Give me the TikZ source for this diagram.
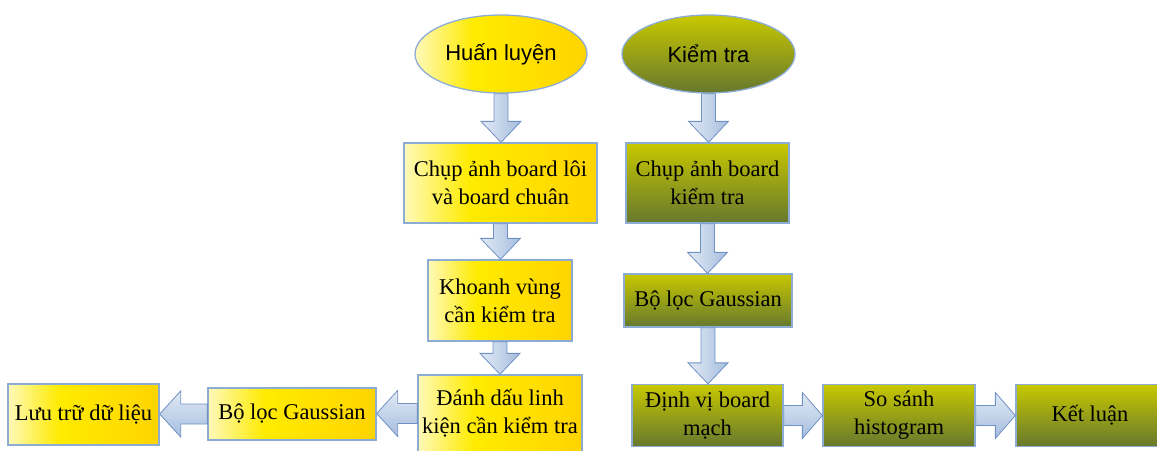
\documentclass[tikz,border=0pt]{standalone}
\usepackage{fontspec}
\setmainfont{Liberation Serif}
\newfontfamily\seriff{Liberation Serif}
\newfontfamily\sansf{Liberation Sans}
\usetikzlibrary{shapes.geometric,calc}
\definecolor{ylight}{RGB}{255,249,185}
\definecolor{ymid}{RGB}{255,235,0}
\definecolor{ydark}{RGB}{255,212,0}
\definecolor{olight}{RGB}{200,200,0}
\definecolor{odark}{RGB}{102,120,46}
\definecolor{bordercol}{RGB}{140,172,212}
\definecolor{alight}{RGB}{226,234,245}
\definecolor{adark}{RGB}{165,189,222}
\definecolor{aborder}{RGB}{112,145,196}
\pgfdeclarehorizontalshading{yellowsh}{100bp}{color(0bp)=(ylight); color(25bp)=(ylight); color(42bp)=(ymid); color(75bp)=(ydark); color(100bp)=(ydark)}
\pgfdeclareverticalshading{olivesh}{100bp}{color(0bp)=(odark); color(25bp)=(odark); color(75bp)=(olight); color(100bp)=(olight)}
\pgfdeclarehorizontalshading{arrowvsh}{100bp}{color(0bp)=(alight); color(25bp)=(alight); color(75bp)=(adark); color(100bp)=(adark)}
\pgfdeclareverticalshading{arrowhsh}{100bp}{color(0bp)=(adark); color(25bp)=(adark); color(75bp)=(alight); color(100bp)=(alight)}
\newcommand\blockdown[2]{%
  \path[blockarrow, shading=arrowvsh] let \p1=(#1.south), \p2=(#2.north) in
    (\x1-7pt,\y1) -- (\x1+7pt,\y1) -- (\x1+7pt,\y2+21pt) -- (\x1+20pt,\y2+21pt)
    -- (\x1,\y2) -- (\x1-20pt,\y2+21pt) -- (\x1-7pt,\y2+21pt) -- cycle;}
\newcommand\blockright[2]{%
  \path[blockarrow, shading=arrowhsh] let \p1=(#1.east), \p2=(#2.west) in
    (\x1,\y1+10pt) -- (\x2-20pt,\y1+10pt) -- (\x2-20pt,\y1+23pt) -- (\x2,\y1)
    -- (\x2-20pt,\y1-23pt) -- (\x2-20pt,\y1-10pt) -- (\x1,\y1-10pt) -- cycle;}
\newcommand\blockleft[2]{%
  \path[blockarrow, shading=arrowhsh] let \p1=(#1.west), \p2=(#2.east) in
    (\x1,\y1+10pt) -- (\x2+21pt,\y1+10pt) -- (\x2+21pt,\y1+23pt) -- (\x2,\y1)
    -- (\x2+21pt,\y1-23pt) -- (\x2+21pt,\y1-10pt) -- (\x1,\y1-10pt) -- cycle;}
\begin{document}
\begin{tikzpicture}[x=1pt,y=-1pt,
  boxbase/.style={draw=bordercol, line width=1.3pt, inner sep=0pt, align=center,
    font=\seriff\fontsize{22.5}{28}\selectfont},
  ybox/.style={boxbase, shade, shading=yellowsh},
  obox/.style={boxbase, shade, shading=olivesh},
  yell/.style={ybox, ellipse, font=\sansf\fontsize{22}{26}\selectfont},
  oell/.style={obox, ellipse, font=\sansf\fontsize{22}{26}\selectfont},
  blockarrow/.style={draw=aborder, line width=0.8pt, shade, line join=miter}]
\useasboundingbox (0,0) rectangle (1157,450);
% left column
\node[yell, minimum width=172pt, minimum height=78pt] (hl) at (501,54) {Huấn luyện};
\node[ybox, minimum width=193pt, minimum height=80pt] (c1) at (500.5,183) {Chụp ảnh board lôi\\và board chuân};
\node[ybox, minimum width=144pt, minimum height=81pt] (kv) at (500,300.5) {Khoanh vùng\\cần kiểm tra};
\node[ybox, minimum width=164pt, minimum height=77pt] (dd) at (500,413.5) {Đánh dấu linh\\kiện cần kiểm tra};
\node[ybox, minimum width=168pt, minimum height=52pt] (bg1) at (292,414) {Bộ lọc Gaussian};
\node[ybox, minimum width=151pt, minimum height=61pt] (lt) at (83.5,414.5) {Lưu trữ dữ liệu};
% right column
\node[oell, minimum width=173pt, minimum height=78pt] (kt) at (708.5,54) {Kiểm tra};
\node[obox, minimum width=163pt, minimum height=80pt] (c2) at (707.5,183) {Chụp ảnh board\\kiểm tra};
\node[obox, minimum width=168pt, minimum height=53pt] (bg2) at (708,300.5) {Bộ lọc Gaussian};
\node[obox, minimum width=151pt, minimum height=62pt] (dv) at (707.5,415.5) {Định vị board\\mạch};
\node[obox, minimum width=152pt, minimum height=62pt] (ss) at (899,415.5) {So sánh\\histogram};
\node[obox, minimum width=148pt, minimum height=62pt] (kl) at (1090,415.5) {Kết luận};
% arrows
\blockdown{hl}{c1}
\blockdown{c1}{kv}
\blockdown{kv}{dd}
\blockleft{dd}{bg1}
\blockleft{bg1}{lt}
\blockdown{kt}{c2}
\blockdown{c2}{bg2}
\blockdown{bg2}{dv}
\blockright{dv}{ss}
\blockright{ss}{kl}
\end{tikzpicture}
\end{document}
